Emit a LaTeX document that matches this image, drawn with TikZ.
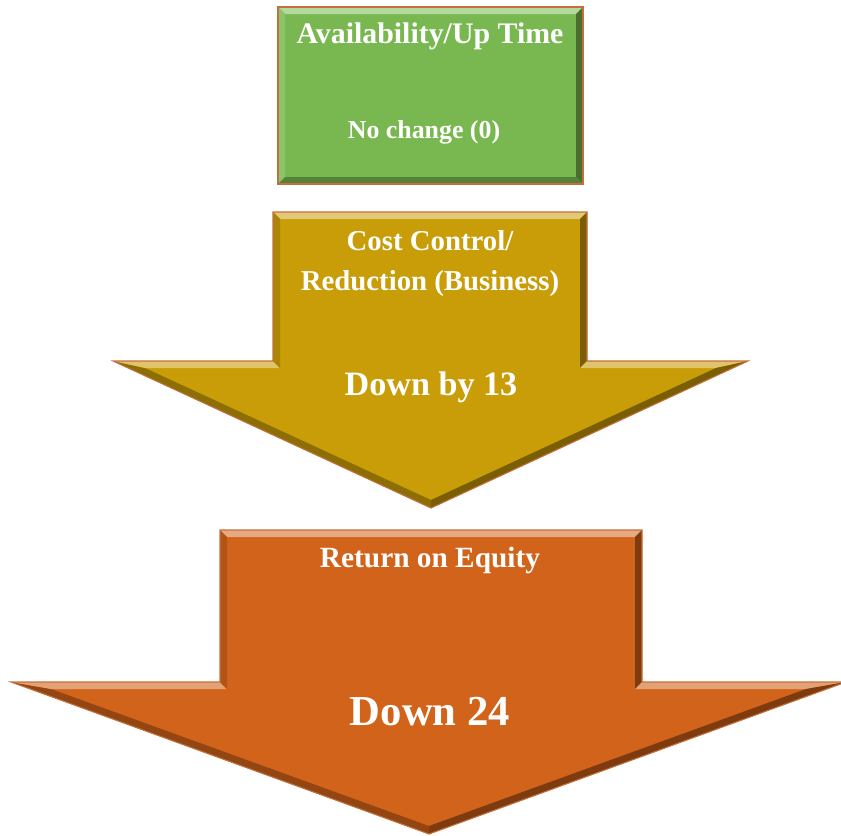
\documentclass[tikz,border=0pt]{standalone}
\usepackage{fontspec}
\setmainfont{Liberation Serif}
\definecolor{upgreen}{RGB}{121,184,80}
\definecolor{costgold}{RGB}{201,157,7}
\definecolor{roeorange}{RGB}{210,99,26}
\definecolor{rimline}{RGB}{196,112,60}
\tikzset{
  boxtext/.style={text=white, font=\bfseries, anchor=base, inner sep=0pt},
  rim/.style={draw=rimline, line width=0.8pt, line join=miter}
}
\begin{document}
\begin{tikzpicture}[x=0.75pt, y=-0.75pt]
  \useasboundingbox (0,0) rectangle (841,835);
  \clip (0,0) rectangle (841,835);

  % availability box
  \coordinate (g1) at (278,7);   \coordinate (h1) at (285,14);
  \coordinate (g2) at (583,7);   \coordinate (h2) at (576,14);
  \coordinate (g3) at (583,184); \coordinate (h3) at (576,177);
  \coordinate (g4) at (278,184); \coordinate (h4) at (285,177);
  \fill[upgreen] (g1) -- (g2) -- (g3) -- (g4) -- cycle;
  \fill[upgreen!55!white] (g1) -- (g2) -- (h2) -- (h1) -- cycle;
  \fill[upgreen!85!white] (g1) -- (h1) -- (h4) -- (g4) -- cycle;
  \fill[upgreen!60!black] (g2) -- (g3) -- (h3) -- (h2) -- cycle;
  \fill[upgreen!70!black] (g4) -- (h4) -- (h3) -- (g3) -- cycle;
  \draw[rim] (g1) -- (g2) -- (g3) -- (g4) -- cycle;

  % cost arrow
  \coordinate (c1) at (273,212); \coordinate (d1) at (280,219);
  \coordinate (c2) at (587,212); \coordinate (d2) at (580,219);
  \coordinate (c3) at (587,361); \coordinate (d3) at (580,368);
  \coordinate (c4) at (748,361); \coordinate (d4) at (716,368);
  \coordinate (c5) at (431,508); \coordinate (d5) at (431,500);
  \coordinate (c6) at (113,361); \coordinate (d6) at (145,368);
  \coordinate (c7) at (273,361); \coordinate (d7) at (280,368);
  \fill[costgold] (c1) -- (c2) -- (c3) -- (c4) -- (c5) -- (c6) -- (c7) -- cycle;
  \fill[costgold!55!white] (c1) -- (c2) -- (d2) -- (d1) -- cycle;
  \fill[costgold!60!black] (c2) -- (c3) -- (d3) -- (d2) -- cycle;
  \fill[costgold!60!white] (c3) -- (c4) -- (d4) -- (d3) -- cycle;
  \fill[costgold!60!black] (c4) -- (c5) -- (d5) -- (d4) -- cycle;
  \fill[costgold!70!black] (c5) -- (c6) -- (d6) -- (d5) -- cycle;
  \fill[costgold!60!white] (c6) -- (c7) -- (d7) -- (d6) -- cycle;
  \fill[costgold!85!black] (c7) -- (c1) -- (d1) -- (d7) -- cycle;
  \draw[rim] (c1) -- (c2) -- (c3) -- (c4) -- (c5) -- (c6) -- (c7) -- cycle;

  % equity arrow
  \coordinate (r1) at (220,530); \coordinate (s1) at (227,537);
  \coordinate (r2) at (642,530); \coordinate (s2) at (635,537);
  \coordinate (r3) at (642,682); \coordinate (s3) at (635,689);
  \coordinate (r4) at (846,682); \coordinate (s4) at (806,689);
  \coordinate (r5) at (429,834); \coordinate (s5) at (429,826);
  \coordinate (r6) at (11,682);  \coordinate (s6) at (51,689);
  \coordinate (r7) at (220,682); \coordinate (s7) at (227,689);
  \fill[roeorange] (r1) -- (r2) -- (r3) -- (r4) -- (r5) -- (r6) -- (r7) -- cycle;
  \fill[roeorange!55!white] (r1) -- (r2) -- (s2) -- (s1) -- cycle;
  \fill[roeorange!60!black] (r2) -- (r3) -- (s3) -- (s2) -- cycle;
  \fill[roeorange!60!white] (r3) -- (r4) -- (s4) -- (s3) -- cycle;
  \fill[roeorange!60!black] (r4) -- (r5) -- (s5) -- (s4) -- cycle;
  \fill[roeorange!70!black] (r5) -- (r6) -- (s6) -- (s5) -- cycle;
  \fill[roeorange!60!white] (r6) -- (r7) -- (s7) -- (s6) -- cycle;
  \fill[roeorange!85!black] (r7) -- (r1) -- (s1) -- (s7) -- cycle;
  \draw[rim] (r1) -- (r2) -- (r3) -- (r4) -- (r5) -- (r6) -- (r7) -- cycle;

  % texts
  \node[boxtext, font=\bfseries\fontsize{22.4}{26}\selectfont] (upt) at (430,43) {Availability/Up Time};
  \node[boxtext, font=\bfseries\fontsize{19.4}{23}\selectfont] (upv) at (424,138) {No change (0)};
  \node[boxtext, font=\bfseries\fontsize{21.6}{26}\selectfont] (cost1) at (430,250) {Cost Control/};
  \node[boxtext, font=\bfseries\fontsize{21.6}{26}\selectfont] (cost2) at (430,290) {Reduction (Business)};
  \node[boxtext, font=\bfseries\fontsize{25.6}{30}\selectfont] (costv) at (431,395) {Down by 13};
  \node[boxtext, font=\bfseries\fontsize{22}{26}\selectfont] (roe) at (430,567) {Return on Equity};
  \node[boxtext, font=\bfseries\fontsize{32}{38}\selectfont] (roev) at (430,725) {Down 24};
\end{tikzpicture}
\end{document}
